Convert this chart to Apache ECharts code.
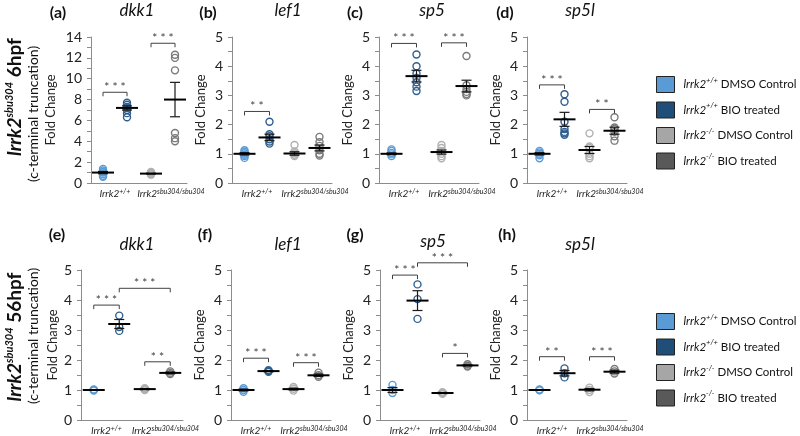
<!DOCTYPE html>
<html>
<head>
<meta charset="utf-8">
<script src="https://cdn.jsdelivr.net/npm/echarts@6/dist/echarts.min.js"></script>
<style>
  html, body { margin: 0; padding: 0; background: #fff; }
  #chart { width: 800px; height: 436px; }
</style>
</head>
<body>
<div id="chart"></div>
<script>
// groups, in x order: wt DMSO, wt BIO, mutant DMSO, mutant BIO
const groupNames = ['wtDMSO', 'wtBIO', 'mutDMSO', 'mutBIO'];
const groupLabels = ['wt', 'mut'];

// ---- 6hpf ----
const dkk1_6 = [[1.35, 1.2, 1.05, 1.0, 0.85, 0.7, 0.6], [7.7, 7.5, 7.3, 7.2, 7.0, 6.7, 6.3], [1.05, 1.0, 0.95, 0.9, 0.85, 0.8], [12.3, 12.0, 10.8, 4.8, 4.3, 4.0]];
const dkk1_6_mean = [1.0, 7.2, 0.9, 8.0];
const dkk1_6_sem = [0.11, 0.2, 0.04, 1.65];
const dkk1_6_sig = [[0, 1, 8.7, '***'], [2, 3, 13.4, '***']];

const lef1_6 = [[1.12, 1.07, 1.02, 0.97, 0.92, 0.86], [2.1, 1.67, 1.6, 1.5, 1.42, 1.35], [1.3, 1.08, 1.02, 0.97, 0.92], [1.58, 1.4, 1.27, 1.12, 1.0, 0.94]];
const lef1_6_mean = [1.0, 1.56, 1.01, 1.2];
const lef1_6_sem = [0.04, 0.11, 0.06, 0.1];
const lef1_6_sig = [[0, 1, 2.45, '**']];

const sp5_6 = [[1.15, 1.1, 1.03, 0.98, 0.92], [4.4, 4.0, 3.75, 3.6, 3.45, 3.3, 3.15], [1.3, 1.2, 1.1, 1.0, 0.92, 0.85], [4.35, 3.35, 3.22, 3.12, 3.05, 3.0]];
const sp5_6_mean = [1.0, 3.66, 1.06, 3.32];
const sp5_6_sem = [0.03, 0.2, 0.07, 0.2];
const sp5_6_sig = [[0, 1, 4.78, '***'], [2, 3, 4.8, '***']];

const sp5l_6 = [[1.1, 1.05, 1.0, 0.95, 0.85], [3.04, 2.78, 2.1, 1.85, 1.75, 1.7, 1.65], [1.7, 1.25, 1.2, 1.0, 0.92, 0.85], [2.25, 1.9, 1.85, 1.75, 1.6, 1.45]];
const sp5l_6_mean = [1.0, 2.18, 1.13, 1.79];
const sp5l_6_sem = [0.04, 0.24, 0.12, 0.12];
const sp5l_6_sig = [[0, 1, 3.36, '***'], [2, 3, 2.52, '**']];

// ---- 56hpf ----
const dkk1_56 = [[1.02, 1.0, 0.98], [3.48, 3.1, 2.97], [1.06, 1.03, 1.0], [1.62, 1.57, 1.53]];
const dkk1_56_mean = [1.0, 3.2, 1.03, 1.57];
const dkk1_56_sem = [0.01, 0.15, 0.02, 0.03];
const dkk1_56_sig = [[0, 1, 3.83, '***'], [1, 3, 4.39, '***'], [2, 3, 1.94, '**']];

const lef1_56 = [[1.06, 1.0, 0.94], [1.66, 1.63, 1.61], [1.1, 1.04, 0.98], [1.58, 1.49, 1.44]];
const lef1_56_mean = [1.0, 1.63, 1.03, 1.49];
const lef1_56_sem = [0.03, 0.02, 0.03, 0.04];
const lef1_56_sig = [[0, 1, 2.06, '***'], [2, 3, 1.91, '***']];

const sp5_56 = [[1.17, 1.0, 0.9], [4.52, 4.03, 3.37], [0.93, 0.9, 0.87], [1.86, 1.81, 1.78]];
const sp5_56_mean = [1.0, 3.98, 0.9, 1.82];
const sp5_56_sem = [0.08, 0.33, 0.02, 0.02];
const sp5_56_sig = [[0, 1, 4.83, '***'], [1, 3, 5.24, '***'], [2, 3, 2.22, '*']];

const sp5l_56 = [[1.02, 1.0, 0.99], [1.72, 1.56, 1.42], [1.08, 1.0, 0.93], [1.7, 1.62, 1.55]];
const sp5l_56_mean = [1.0, 1.56, 1.01, 1.61];
const sp5l_56_sem = [0.01, 0.09, 0.04, 0.05];
const sp5l_56_sig = [[0, 1, 2.11, '**'], [2, 3, 2.11, '***']];

const ptColors = ['#5b9bd5', '#2f5f8f', '#b0b0b0', '#7a7a7a'];
const legendColors = ['#5b9bd5', '#1f4e79', '#a6a6a6', '#595959'];
const FONT = 'Lato, "Open Sans", sans-serif';

// panel layout
const panels = [
  { letter: '(a)', gene: 'dkk1', pts: dkk1_6, mean: dkk1_6_mean, sem: dkk1_6_sem, sig: dkk1_6_sig, max: 14, step: 2, left: 91, top: 37, w: 96, h: 146, gap: 34, lx: 58, ly: 13, gx: 137, gy: 11 },
  { letter: '(b)', gene: 'lef1', pts: lef1_6, mean: lef1_6_mean, sem: lef1_6_sem, sig: lef1_6_sig, max: 5, step: 1, left: 232, top: 37, w: 100, h: 146, gap: 25, lx: 208, ly: 13, gx: 288, gy: 11 },
  { letter: '(c)', gene: 'sp5', pts: sp5_6, mean: sp5_6_mean, sem: sp5_6_sem, sig: sp5_6_sig, max: 5, step: 1, left: 379, top: 37, w: 100, h: 146, gap: 25, lx: 355, ly: 13, gx: 432, gy: 11 },
  { letter: '(d)', gene: 'sp5l', pts: sp5l_6, mean: sp5l_6_mean, sem: sp5l_6_sem, sig: sp5l_6_sig, max: 5, step: 1, left: 527, top: 37, w: 100, h: 146, gap: 25, lx: 505, ly: 13, gx: 580, gy: 11 },
  { letter: '(e)', gene: 'dkk1', pts: dkk1_56, mean: dkk1_56_mean, sem: dkk1_56_sem, sig: dkk1_56_sig, max: 5, step: 1, left: 81, top: 270, w: 102, h: 150, gap: 22, lx: 57, ly: 235, gx: 137, gy: 245 },
  { letter: '(f)', gene: 'lef1', pts: lef1_56, mean: lef1_56_mean, sem: lef1_56_sem, sig: lef1_56_sig, max: 5, step: 1, left: 231, top: 270, w: 100, h: 150, gap: 25, lx: 205, ly: 235, gx: 288, gy: 245 },
  { letter: '(g)', gene: 'sp5', pts: sp5_56, mean: sp5_56_mean, sem: sp5_56_sem, sig: sp5_56_sig, max: 5, step: 1, left: 380, top: 270, w: 100, h: 150, gap: 25, lx: 355, ly: 235, gx: 433, gy: 242 },
  { letter: '(h)', gene: 'sp5l', pts: sp5l_56, mean: sp5l_56_mean, sem: sp5l_56_sem, sig: sp5l_56_sig, max: 5, step: 1, left: 527, top: 270, w: 100, h: 150, gap: 25, lx: 507, ly: 235, gx: 580, gy: 245 }
];

const grids = [], xAxes = [], yAxes = [], series = [], graphics = [];

panels.forEach(function (p, k) {
  grids.push({ left: p.left, top: p.top, width: p.w, height: p.h });
  // x axis with the 4 groups (carries the data)
  xAxes.push({
    type: 'category', gridIndex: k, data: groupNames,
    axisLine: { lineStyle: { color: '#8c8c8c', width: 1 } },
    axisTick: { show: false }, axisLabel: { show: false }
  });
  // x axis with the 2 genotype labels
  xAxes.push({
    type: 'category', gridIndex: k, data: groupLabels, position: 'bottom',
    axisLine: { show: false }, axisTick: { show: false },
    axisLabel: {
      margin: 5, interval: 0, hideOverlap: false,
      formatter: function (v) { return v === 'wt' ? '{i|lrrk2}{s|+/+}' : '{pad| }{i|lrrk2}{s|sbu304/sbu304}'; },
      rich: {
        i: { fontFamily: FONT, fontStyle: 'italic', fontSize: 10, color: '#222', lineHeight: 12 },
        s: { fontFamily: FONT, fontStyle: 'italic', fontSize: 7, color: '#222', verticalAlign: 'top', lineHeight: 12 },
        pad: { width: 16, fontSize: 7, lineHeight: 12 }
      }
    }
  });
  yAxes.push({
    type: 'value', gridIndex: k, min: 0, max: p.max, interval: p.step,
    name: 'Fold Change', nameLocation: 'middle', nameGap: p.gap,
    nameTextStyle: { fontFamily: FONT, fontSize: 13, color: '#222' },
    axisLine: { show: true, lineStyle: { color: '#8c8c8c' } },
    axisTick: { show: true, length: 4, lineStyle: { color: '#8c8c8c' } },
    minorTick: { show: true, splitNumber: 2, length: 4, lineStyle: { color: '#8c8c8c' } },
    splitLine: { show: false },
    axisLabel: { fontFamily: FONT, fontSize: 14, color: '#222', margin: 9 }
  });

  // individual points
  p.pts.forEach(function (vals, g) {
    series.push({
      type: 'scatter', name: groupNames[g], xAxisIndex: 2 * k, yAxisIndex: k,
      symbol: 'circle', symbolSize: 7,
      itemStyle: { color: 'rgba(255,255,255,0)', borderColor: ptColors[g], borderWidth: 1.4, opacity: 1 },
      data: vals.map(function (v) { return [g, v]; }),
      z: 2, silent: true
    });
  });

  // mean and SEM
  series.push({
    type: 'custom', xAxisIndex: 2 * k, yAxisIndex: k, z: 3, silent: true,
    encode: { x: 0, y: 1 },
    data: p.mean.map(function (m, g) { return [g, m, p.sem[g]]; }),
    renderItem: function (params, api) {
      const g = api.value(0), m = api.value(1), s = api.value(2);
      const c = api.coord([g, m]);
      const t = api.coord([g, m + s]);
      const b = api.coord([g, m - s]);
      const thin = { stroke: '#1a1a1a', lineWidth: 1.2 };
      return {
        type: 'group', children: [
          { type: 'line', shape: { x1: c[0], y1: t[1], x2: c[0], y2: b[1] }, style: thin },
          { type: 'line', shape: { x1: c[0] - 5, y1: t[1], x2: c[0] + 5, y2: t[1] }, style: thin },
          { type: 'line', shape: { x1: c[0] - 5, y1: b[1], x2: c[0] + 5, y2: b[1] }, style: thin },
          { type: 'line', shape: { x1: c[0] - 11, y1: c[1], x2: c[0] + 11, y2: c[1] }, style: { stroke: '#000', lineWidth: 2 } }
        ]
      };
    }
  });

  // significance brackets
  series.push({
    type: 'custom', xAxisIndex: 2 * k, yAxisIndex: k, z: 4, silent: true, clip: false,
    encode: { x: [0, 1], y: 2 },
    data: p.sig.map(function (s) { return [s[0], s[1], s[2]]; }),
    renderItem: function (params, api) {
      const a = api.coord([api.value(0), api.value(2)]);
      const b = api.coord([api.value(1), api.value(2)]);
      const stars = p.sig[params.dataIndex][3];
      return {
        type: 'group', children: [
          { type: 'polyline', shape: { points: [[a[0], a[1] + 4], [a[0], a[1]], [b[0], a[1]], [b[0], a[1] + 4]] }, style: { stroke: '#404040', lineWidth: 1, fill: null } },
          { type: 'text', x: (a[0] + b[0]) / 2, y: a[1] + 1, style: { text: stars.split('').join(' '), fontFamily: FONT, fontSize: 12, fill: '#404040', align: 'center', verticalAlign: 'bottom' } }
        ]
      };
    }
  });

  graphics.push({ type: 'text', x: p.lx, y: p.ly, style: { text: p.letter, fontFamily: FONT, fontWeight: 'bold', fontSize: 16, fill: '#111', align: 'center', verticalAlign: 'middle' } });
  graphics.push({ type: 'text', x: p.gx, y: p.gy, style: { text: p.gene, fontFamily: FONT, fontStyle: 'italic', fontSize: 17, fill: '#111', align: 'center', verticalAlign: 'middle' } });
});

// row titles
const rowRich = {
  i: { fontFamily: FONT, fontStyle: 'italic', fontWeight: 'bold', fontSize: 19, fill: '#111', lineHeight: 22 },
  s: { fontFamily: FONT, fontStyle: 'italic', fontWeight: 'bold', fontSize: 11, fill: '#111', verticalAlign: 'top', lineHeight: 22 },
  b: { fontFamily: FONT, fontWeight: 'bold', fontSize: 19, fill: '#111', lineHeight: 22 }
};
[[97, '6hpf', 114], [337, '56hpf', 336]].forEach(function (r) {
  graphics.push({ type: 'text', x: 15, y: r[0], rotation: Math.PI / 2, style: { text: '{i|lrrk2}{s|sbu304}{b| ' + r[1] + '}', rich: rowRich, align: 'center', verticalAlign: 'middle' } });
  graphics.push({ type: 'text', x: 33, y: r[2], rotation: Math.PI / 2, style: { text: '(c-terminal truncation)', fontFamily: FONT, fontSize: 14, fill: '#111', align: 'center', verticalAlign: 'middle' } });
});

const legendText = {
  wtDMSO: '{i|lrrk2}{s|+/+}{t| DMSO Control}',
  wtBIO: '{i|lrrk2}{s|+/+}{t| BIO treated}',
  mutDMSO: '{i|lrrk2}{s|-/-}{t| DMSO Control}',
  mutBIO: '{i|lrrk2}{s|-/-}{t| BIO treated}'
};
function makeLegend(top) {
  return {
    orient: 'vertical', left: 651, top: top, icon: 'rect',
    itemWidth: 18, itemHeight: 16, itemGap: 8.5,
    data: groupNames.map(function (n, g) {
      return { name: n, itemStyle: { color: legendColors[g], borderColor: '#222', borderWidth: 1 } };
    }),
    formatter: function (n) { return legendText[n]; },
    textStyle: {
      padding: [0, 0, 0, 4],
      rich: {
        i: { fontFamily: FONT, fontStyle: 'italic', fontSize: 11.5, color: '#111', lineHeight: 16 },
        s: { fontFamily: FONT, fontStyle: 'italic', fontSize: 7.5, color: '#111', verticalAlign: 'top', lineHeight: 16 },
        t: { fontFamily: FONT, fontSize: 11.5, color: '#111', lineHeight: 16 }
      }
    },
    selectedMode: false
  };
}

const chart = echarts.init(document.getElementById('chart'));
chart.setOption({
  animation: false,
  backgroundColor: '#fff',
  textStyle: { fontFamily: FONT },
  grid: grids,
  xAxis: xAxes,
  yAxis: yAxes,
  legend: [makeLegend(71), makeLegend(308)],
  graphic: graphics,
  series: series
});
</script>
</body>
</html>
